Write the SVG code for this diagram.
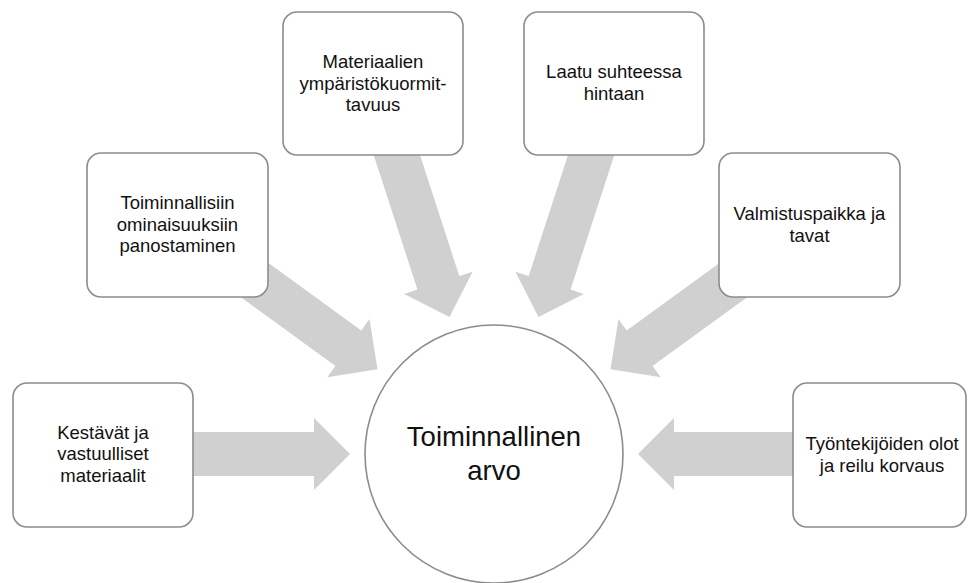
<svg xmlns="http://www.w3.org/2000/svg" xmlns:xlink="http://www.w3.org/1999/xlink" width="968" height="583" viewBox="0 0 968 583">
  <style>
    .box { fill: #ffffff; stroke: #8c8c8c; stroke-width: 1.6; }
    .hub { fill: #ffffff; stroke: #8c8c8c; stroke-width: 1.6; }
    .arrow { fill: #d0d0d0; }
    .label { font-family: "Liberation Sans", Arial, sans-serif; font-size: 18.5px; fill: #111111; text-anchor: middle; }
    .hub-label { font-family: "Liberation Sans", Arial, sans-serif; font-size: 27.5px; fill: #111111; text-anchor: middle; }
  </style>
  <defs>
    <!-- block arrow: tip at origin, pointing along +x -->
    <path id="block-arrow" d="M0,0 L-36,-36 L-36,-22 L-186,-22 L-186,22 L-36,22 L-36,36 Z"/>
  </defs>

  <rect width="968" height="583" fill="#ffffff"/>

  <g id="connectors">
    <use xlink:href="#block-arrow" class="arrow" transform="translate(350,454)"/>
    <use xlink:href="#block-arrow" class="arrow" transform="translate(377.5,369.36) rotate(36)"/>
    <use xlink:href="#block-arrow" class="arrow" transform="translate(449.5,317.05) rotate(72)"/>
    <use xlink:href="#block-arrow" class="arrow" transform="translate(538.5,317.05) rotate(108)"/>
    <use xlink:href="#block-arrow" class="arrow" transform="translate(610.5,369.36) rotate(144)"/>
    <use xlink:href="#block-arrow" class="arrow" transform="translate(638,454) rotate(180)"/>
  </g>

  <g id="hub">
    <circle class="hub" cx="494" cy="454" r="129"/>
    <text class="hub-label" x="494" y="446">Toiminnallinen</text>
    <text class="hub-label" x="494" y="480">arvo</text>
  </g>

  <g id="node-materials">
    <rect class="box" x="13" y="383" width="180" height="144" rx="14"/>
    <text class="label" x="103" y="438.5">Kestävät ja</text>
    <text class="label" x="103" y="460">vastuulliset</text>
    <text class="label" x="103" y="481.5">materiaalit</text>
  </g>

  <g id="node-features">
    <rect class="box" x="87" y="153" width="181" height="144" rx="14"/>
    <text class="label" x="177.5" y="209">Toiminnallisiin</text>
    <text class="label" x="177.5" y="230.5">ominaisuuksiin</text>
    <text class="label" x="177.5" y="252">panostaminen</text>
  </g>

  <g id="node-impact">
    <rect class="box" x="283" y="12" width="180" height="143" rx="14"/>
    <text class="label" x="373" y="68">Materiaalien</text>
    <text class="label" x="373" y="89.5">ympäristökuormit-</text>
    <text class="label" x="373" y="111">tavuus</text>
  </g>

  <g id="node-quality">
    <rect class="box" x="524" y="12" width="180" height="143" rx="14"/>
    <text class="label" x="614" y="78">Laatu suhteessa</text>
    <text class="label" x="614" y="100">hintaan</text>
  </g>

  <g id="node-origin">
    <rect class="box" x="719" y="153" width="181" height="144" rx="14"/>
    <text class="label" x="809.5" y="220">Valmistuspaikka ja</text>
    <text class="label" x="809.5" y="242">tavat</text>
  </g>

  <g id="node-workers">
    <rect class="box" x="793" y="383" width="173" height="144" rx="14"/>
    <text class="label" x="882" y="450">Työntekijöiden olot</text>
    <text class="label" x="882" y="472">ja reilu korvaus</text>
  </g>
</svg>
